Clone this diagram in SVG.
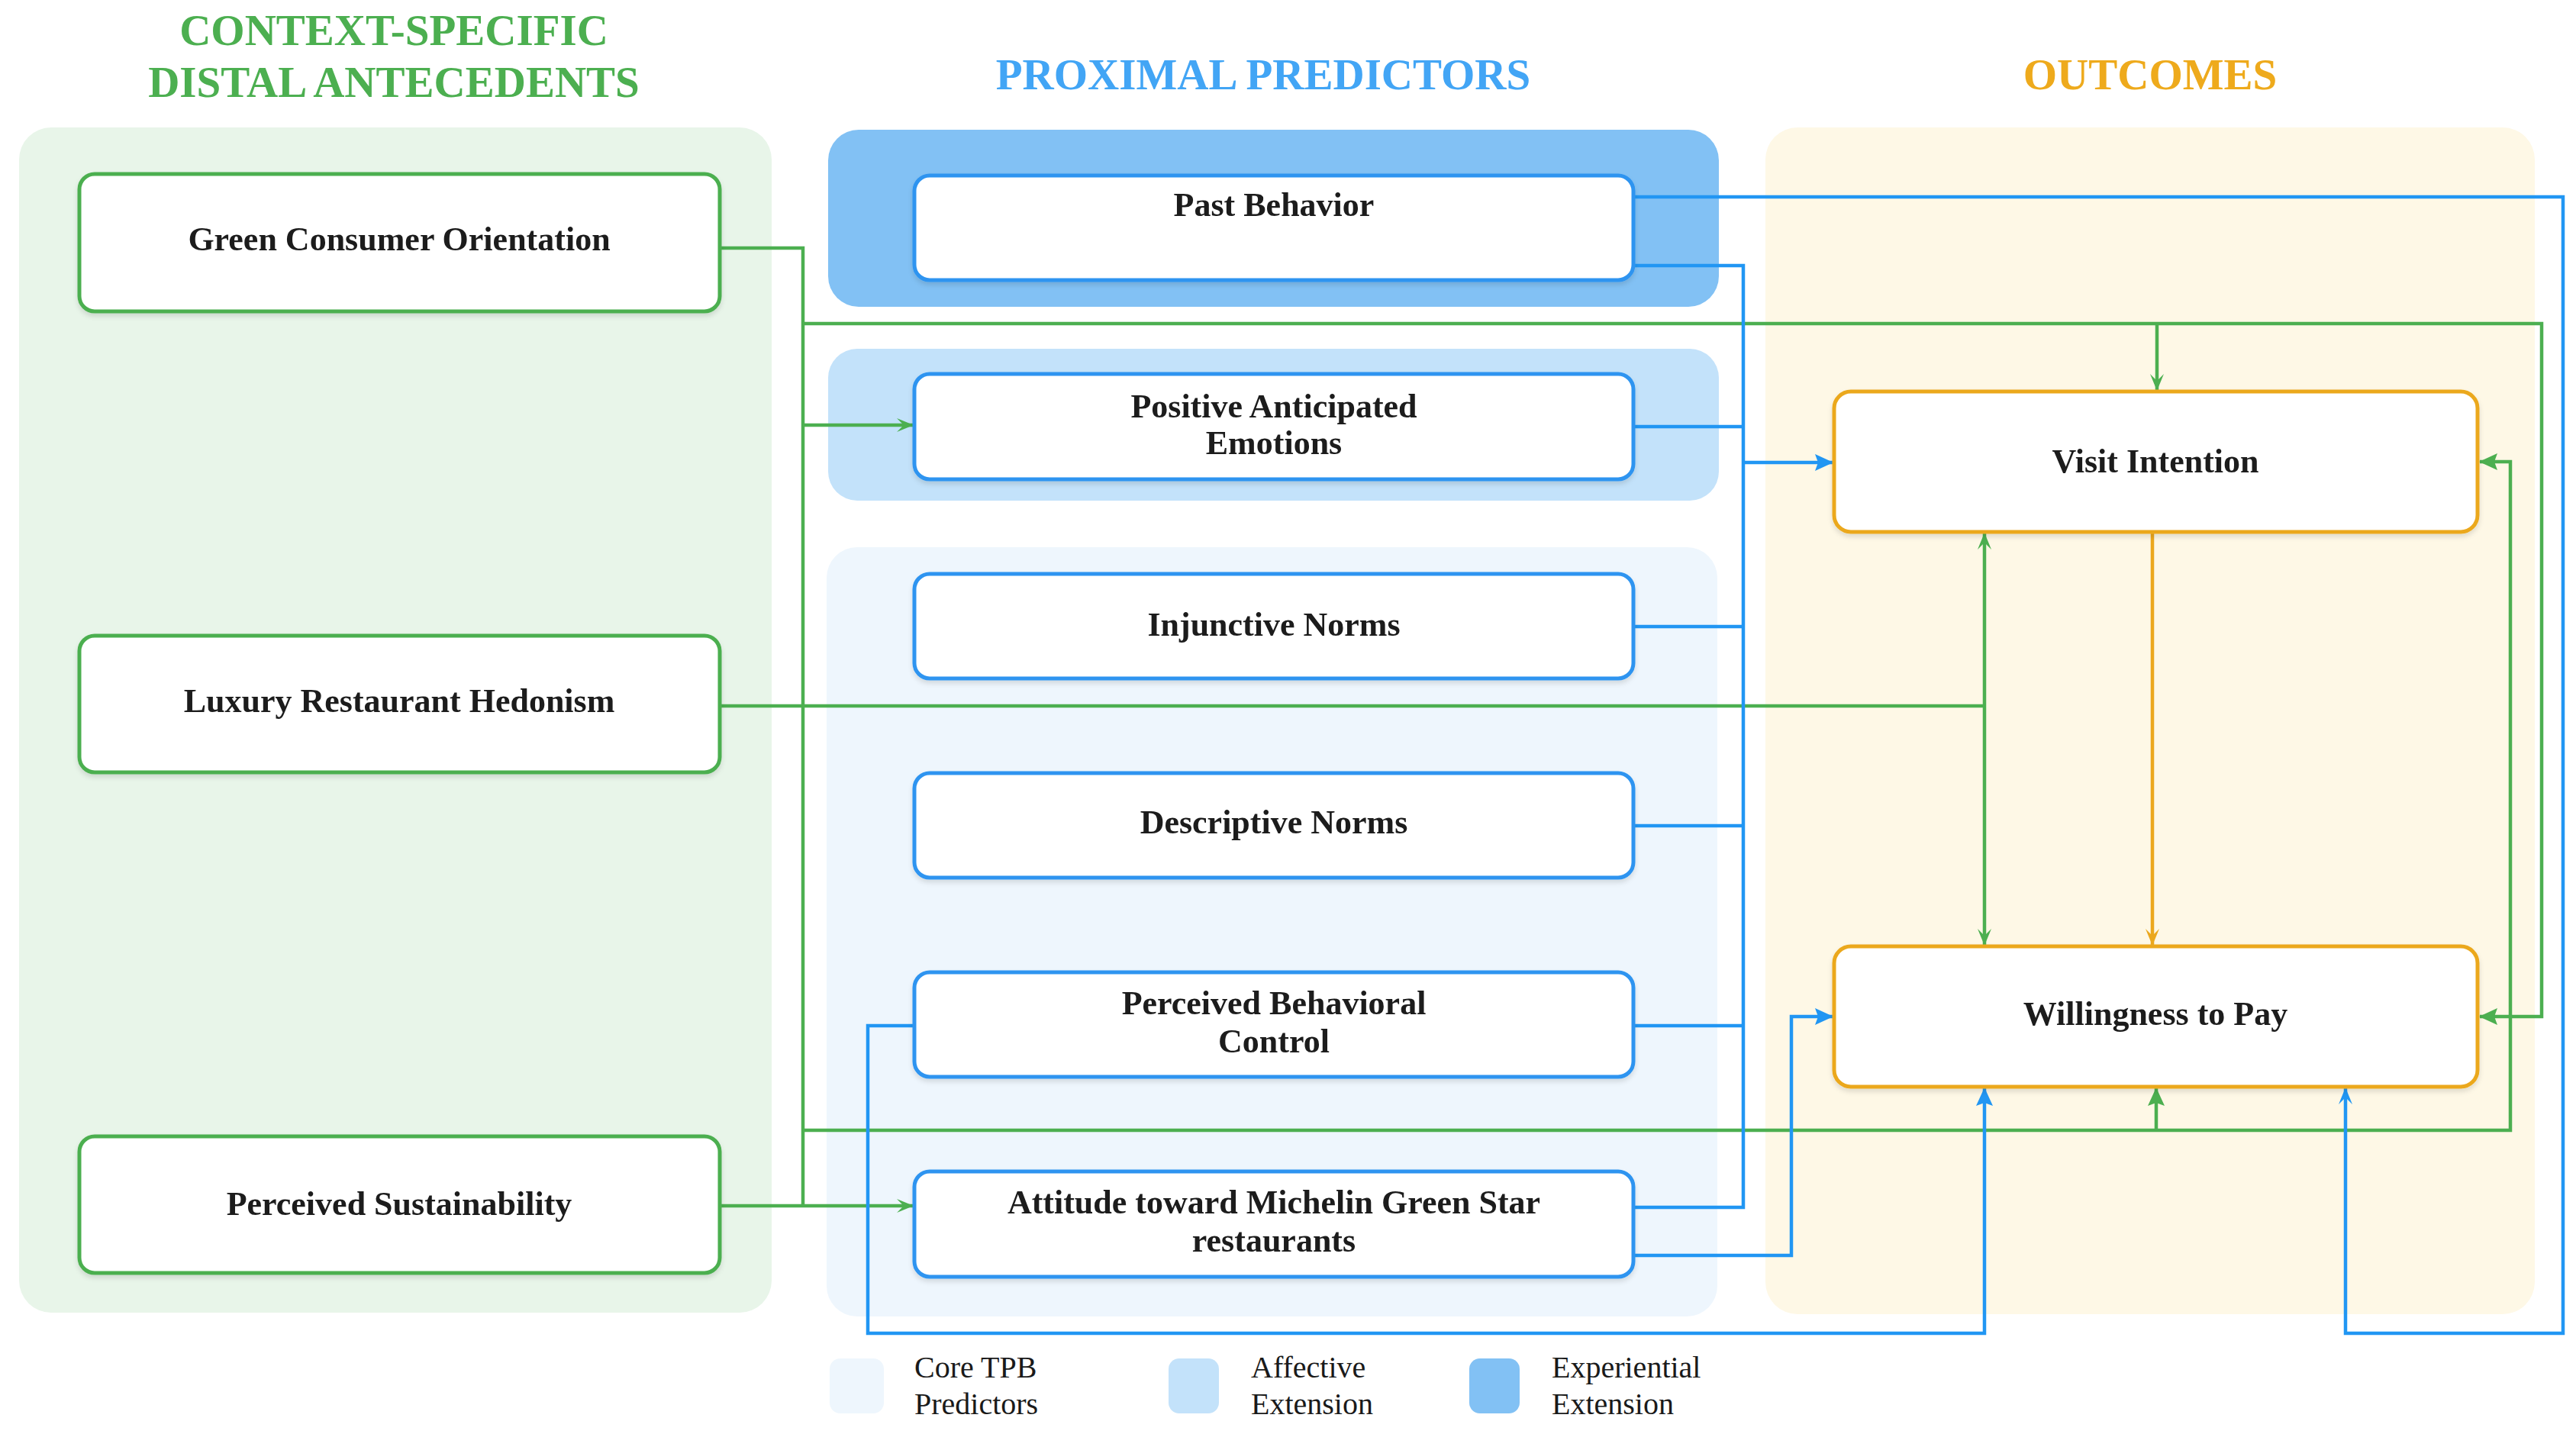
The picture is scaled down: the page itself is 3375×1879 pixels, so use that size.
<svg xmlns="http://www.w3.org/2000/svg" width="3375" height="1879" viewBox="0 0 3375 1879">
  <defs>
    <style>
      .title { font-family: "Liberation Serif", "Times New Roman", serif; font-weight: bold; font-size: 57px; text-anchor: middle; }
      .lbl { font-family: "Liberation Serif", "Times New Roman", serif; font-weight: bold; font-size: 44px; fill: #1a1a1a; text-anchor: middle; }
      .leg { font-family: "Liberation Serif", "Times New Roman", serif; font-size: 40px; fill: #1a1a1a; }
      .gnode { fill: #ffffff; stroke: #4CAF50; stroke-width: 5; }
      .bnode { fill: #ffffff; stroke: #2E94F0; stroke-width: 5; }
      .onode { fill: #ffffff; stroke: #EBA81E; stroke-width: 5; }
      .cg { fill: none; stroke: #4CAF50; stroke-width: 4.5; }
      .cb { fill: none; stroke: #2196F3; stroke-width: 4.5; }
      .co { fill: none; stroke: #EBA81E; stroke-width: 4.5; }
    </style>
    <filter id="sh" x="-5%" y="-10%" width="110%" height="130%">
      <feDropShadow dx="0" dy="4" stdDeviation="3" flood-color="#000" flood-opacity="0.12"/>
    </filter>
    <marker id="abf" viewBox="0 0 24 22" refX="23" refY="11" markerWidth="24" markerHeight="22" markerUnits="userSpaceOnUse" orient="auto">
      <path d="M0,0 L24,11 L0,22 L4,11 Z" fill="#2196F3"/>
    </marker>
    <marker id="abo" viewBox="0 0 22 20" refX="21" refY="10" markerWidth="22" markerHeight="20" markerUnits="userSpaceOnUse" orient="auto">
      <path d="M0,1 L22,10 L0,19 L9,10 Z" fill="#2196F3"/>
    </marker>
    <marker id="agf" viewBox="0 0 24 22" refX="23" refY="11" markerWidth="24" markerHeight="22" markerUnits="userSpaceOnUse" orient="auto">
      <path d="M0,0 L24,11 L0,22 L4,11 Z" fill="#4CAF50"/>
    </marker>
    <marker id="ago" viewBox="0 0 22 20" refX="21" refY="10" markerWidth="22" markerHeight="20" markerUnits="userSpaceOnUse" orient="auto">
      <path d="M0,1 L22,10 L0,19 L9,10 Z" fill="#4CAF50"/>
    </marker>
    <marker id="aoo" viewBox="0 0 22 20" refX="21" refY="10" markerWidth="22" markerHeight="20" markerUnits="userSpaceOnUse" orient="auto">
      <path d="M0,1 L22,10 L0,19 L9,10 Z" fill="#EBA81E"/>
    </marker>
  </defs>

  <rect width="3375" height="1879" fill="#ffffff"/>

  <!-- Titles -->
  <g id="titles">
    <text class="title" x="516" y="59" fill="#4CAF50">CONTEXT-SPECIFIC</text>
    <text class="title" x="516" y="127" fill="#4CAF50">DISTAL ANTECEDENTS</text>
    <text class="title" x="1655" y="117" fill="#42A5F5">PROXIMAL PREDICTORS</text>
    <text class="title" x="2817" y="117" fill="#EEAA1C">OUTCOMES</text>
  </g>

  <!-- Panels -->
  <g id="panels">
    <rect x="25" y="167" width="986" height="1553" rx="42" fill="#E8F5E9"/>
    <rect x="1085" y="170" width="1167" height="232" rx="40" fill="#82C1F4"/>
    <rect x="1085" y="457" width="1167" height="199" rx="38" fill="#C3E2FA"/>
    <rect x="1083" y="717" width="1167" height="1008" rx="40" fill="#EEF6FD"/>
    <rect x="2313" y="167" width="1008" height="1555" rx="42" fill="#FEF8E6"/>
  </g>

  <!-- Connectors -->
  <g id="connectors">
    <!-- green -->
    <path class="cg" d="M943,325 H1052 V1580"/>
    <path class="cg" d="M943,1580 H1196" marker-end="url(#ago)"/>
    <path class="cg" d="M1052,557 H1196" marker-end="url(#ago)"/>
    <path class="cg" d="M1052,424 H3330 V1332 H3249" marker-end="url(#agf)"/>
    <path class="cg" d="M2826,424 V511" marker-end="url(#ago)"/>
    <path class="cg" d="M1052,1481 H3289 V605 H3249" marker-end="url(#agf)"/>
    <path class="cg" d="M2825,1481 V1426" marker-end="url(#agf)"/>
    <path class="cg" d="M943,925 H2600"/>
    <path class="cg" d="M2600,925 V699" marker-end="url(#ago)"/>
    <path class="cg" d="M2600,925 V1238" marker-end="url(#ago)"/>
    <!-- orange -->
    <path class="co" d="M2820,697 V1238" marker-end="url(#aoo)"/>
    <!-- blue -->
    <path class="cb" d="M2140,258 H3358 V1747 H3073 V1426" marker-end="url(#abo)"/>
    <path class="cb" d="M2140,348 H2284 V1582 H2140"/>
    <path class="cb" d="M2140,559 H2284"/>
    <path class="cb" d="M2140,821 H2284"/>
    <path class="cb" d="M2140,1082 H2284"/>
    <path class="cb" d="M2140,1344 H2284"/>
    <path class="cb" d="M2284,606 H2401" marker-end="url(#abf)"/>
    <path class="cb" d="M2140,1645 H2347 V1332 H2401" marker-end="url(#abf)"/>
    <path class="cb" d="M1198,1344 H1137 V1747 H2600 V1426" marker-end="url(#abf)"/>
  </g>

  <!-- Distal antecedents -->
  <g id="node-gco" filter="url(#sh)">
    <rect class="gnode" x="104" y="228" width="839" height="180" rx="20"/>
    <text class="lbl" x="523" y="328">Green Consumer Orientation</text>
  </g>
  <g id="node-lrh" filter="url(#sh)">
    <rect class="gnode" x="104" y="833" width="839" height="179" rx="20"/>
    <text class="lbl" x="523" y="933">Luxury Restaurant Hedonism</text>
  </g>
  <g id="node-ps" filter="url(#sh)">
    <rect class="gnode" x="104" y="1489" width="839" height="179" rx="20"/>
    <text class="lbl" x="523" y="1592">Perceived Sustainability</text>
  </g>

  <!-- Proximal predictors -->
  <g id="node-pb" filter="url(#sh)">
    <rect class="bnode" x="1198" y="230" width="942" height="137" rx="20"/>
    <text class="lbl" x="1669" y="283">Past Behavior</text>
  </g>
  <g id="node-pae" filter="url(#sh)">
    <rect class="bnode" x="1198" y="490" width="942" height="138" rx="20"/>
    <text class="lbl" x="1669" y="547">Positive Anticipated</text>
    <text class="lbl" x="1669" y="595">Emotions</text>
  </g>
  <g id="node-in" filter="url(#sh)">
    <rect class="bnode" x="1198" y="752" width="942" height="137" rx="20"/>
    <text class="lbl" x="1669" y="833">Injunctive Norms</text>
  </g>
  <g id="node-dn" filter="url(#sh)">
    <rect class="bnode" x="1198" y="1013" width="942" height="137" rx="20"/>
    <text class="lbl" x="1669" y="1092">Descriptive Norms</text>
  </g>
  <g id="node-pbc" filter="url(#sh)">
    <rect class="bnode" x="1198" y="1274" width="942" height="137" rx="20"/>
    <text class="lbl" x="1669" y="1329">Perceived Behavioral</text>
    <text class="lbl" x="1669" y="1379">Control</text>
  </g>
  <g id="node-att" filter="url(#sh)">
    <rect class="bnode" x="1198" y="1535" width="942" height="138" rx="20"/>
    <text class="lbl" x="1669" y="1590">Attitude toward Michelin Green Star</text>
    <text class="lbl" x="1669" y="1640">restaurants</text>
  </g>

  <!-- Outcomes -->
  <g id="node-vi" filter="url(#sh)">
    <rect class="onode" x="2403" y="513" width="843" height="184" rx="22"/>
    <text class="lbl" x="2824" y="619">Visit Intention</text>
  </g>
  <g id="node-wtp" filter="url(#sh)">
    <rect class="onode" x="2403" y="1240" width="843" height="184" rx="22"/>
    <text class="lbl" x="2824" y="1343">Willingness to Pay</text>
  </g>

  <!-- Legend -->
  <g id="legend">
    <rect x="1087" y="1780" width="71" height="72" rx="14" fill="#EEF6FD"/>
    <text class="leg" x="1198" y="1805">Core TPB</text>
    <text class="leg" x="1198" y="1853">Predictors</text>
    <rect x="1531" y="1780" width="66" height="72" rx="14" fill="#C3E2FA"/>
    <text class="leg" x="1639" y="1805">Affective</text>
    <text class="leg" x="1639" y="1853">Extension</text>
    <rect x="1925" y="1780" width="66" height="72" rx="14" fill="#82C1F4"/>
    <text class="leg" x="2033" y="1805">Experiential</text>
    <text class="leg" x="2033" y="1853">Extension</text>
  </g>
</svg>
